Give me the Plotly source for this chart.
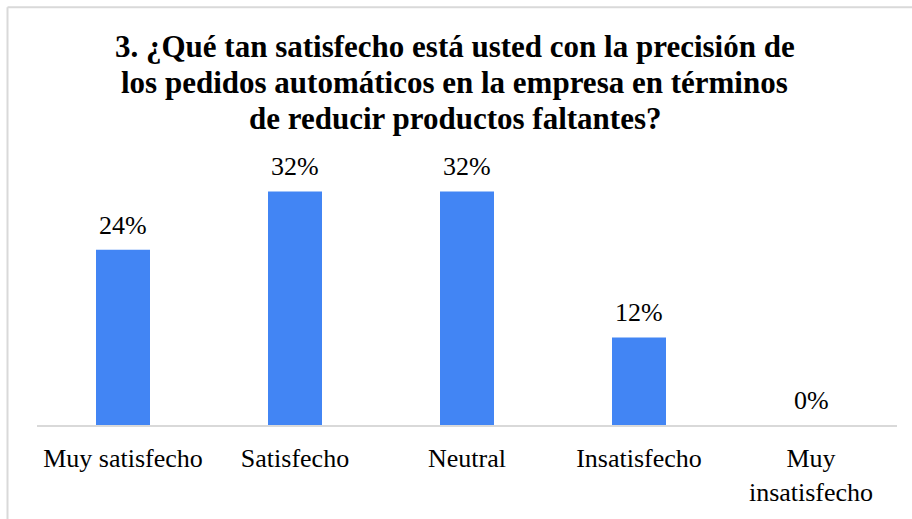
import plotly.graph_objects as go

# Survey responses, question 3
categorias = ["Muy satisfecho", "Satisfecho", "Neutral", "Insatisfecho", "Muy<br>insatisfecho"]
porcentajes = [0.24, 0.32, 0.32, 0.12, 0.00]
etiquetas = ["24%", "32%", "32%", "12%", "0%"]

titulo = [
    "3. ¿Qué tan satisfecho está usted con la precisión de",
    "los pedidos automáticos en la empresa en términos",
    "de reducir productos faltantes?",
]

FUENTE = "Liberation Serif"
AZUL = "#4285F4"
GRIS = "#D9D9D9"

fig = go.Figure()
fig.add_trace(go.Bar(
    x=categorias,
    y=porcentajes,
    marker=dict(color=AZUL, line=dict(width=0)),
    hoverinfo="skip",
))

# Value labels above each bar
for c, v, t in zip(categorias, porcentajes, etiquetas):
    fig.add_annotation(
        x=c, y=v, text=t, showarrow=False,
        xref="x", yref="y", yanchor="bottom", yshift=8,
        font=dict(family=FUENTE, size=26, color="#000000"),
    )

# Title, one annotation per line for a tight line spacing
for i, linea in enumerate(titulo):
    fig.add_annotation(
        text=f"<b>{linea}</b>", showarrow=False,
        xref="paper", yref="paper",
        x=0.4855, xanchor="center",
        y=(429 - (45 + 36.5 * i)) / 296, yanchor="middle",
        font=dict(family=FUENTE, size=31, color="#000000"),
    )

# Chart border (runs off the right and bottom edges)
fig.add_shape(type="line", xref="paper", yref="paper",
              x0=-0.0343, x1=1.2, y0=1.4307, y1=1.4307,
              line=dict(color=GRIS, width=2), layer="above")
fig.add_shape(type="line", xref="paper", yref="paper",
              x0=-0.0343, x1=-0.0343, y0=-0.6, y1=1.4307,
              line=dict(color=GRIS, width=2), layer="above")

fig.update_layout(
    width=912, height=519,
    margin=dict(l=37, r=15, t=133, b=90),
    paper_bgcolor="white", plot_bgcolor="white",
    bargap=0.686,
    showlegend=False,
    xaxis=dict(
        showline=True, linecolor=GRIS, linewidth=2,
        showgrid=False, zeroline=False, ticks="",
        ticklabelstandoff=9,
        tickfont=dict(family=FUENTE, size=26, color="#000000"),
        range=[-0.5, 4.5],
    ),
    yaxis=dict(
        range=[0, 0.40], visible=False, showgrid=False, zeroline=False,
    ),
)

fig.write_html("out.html")
